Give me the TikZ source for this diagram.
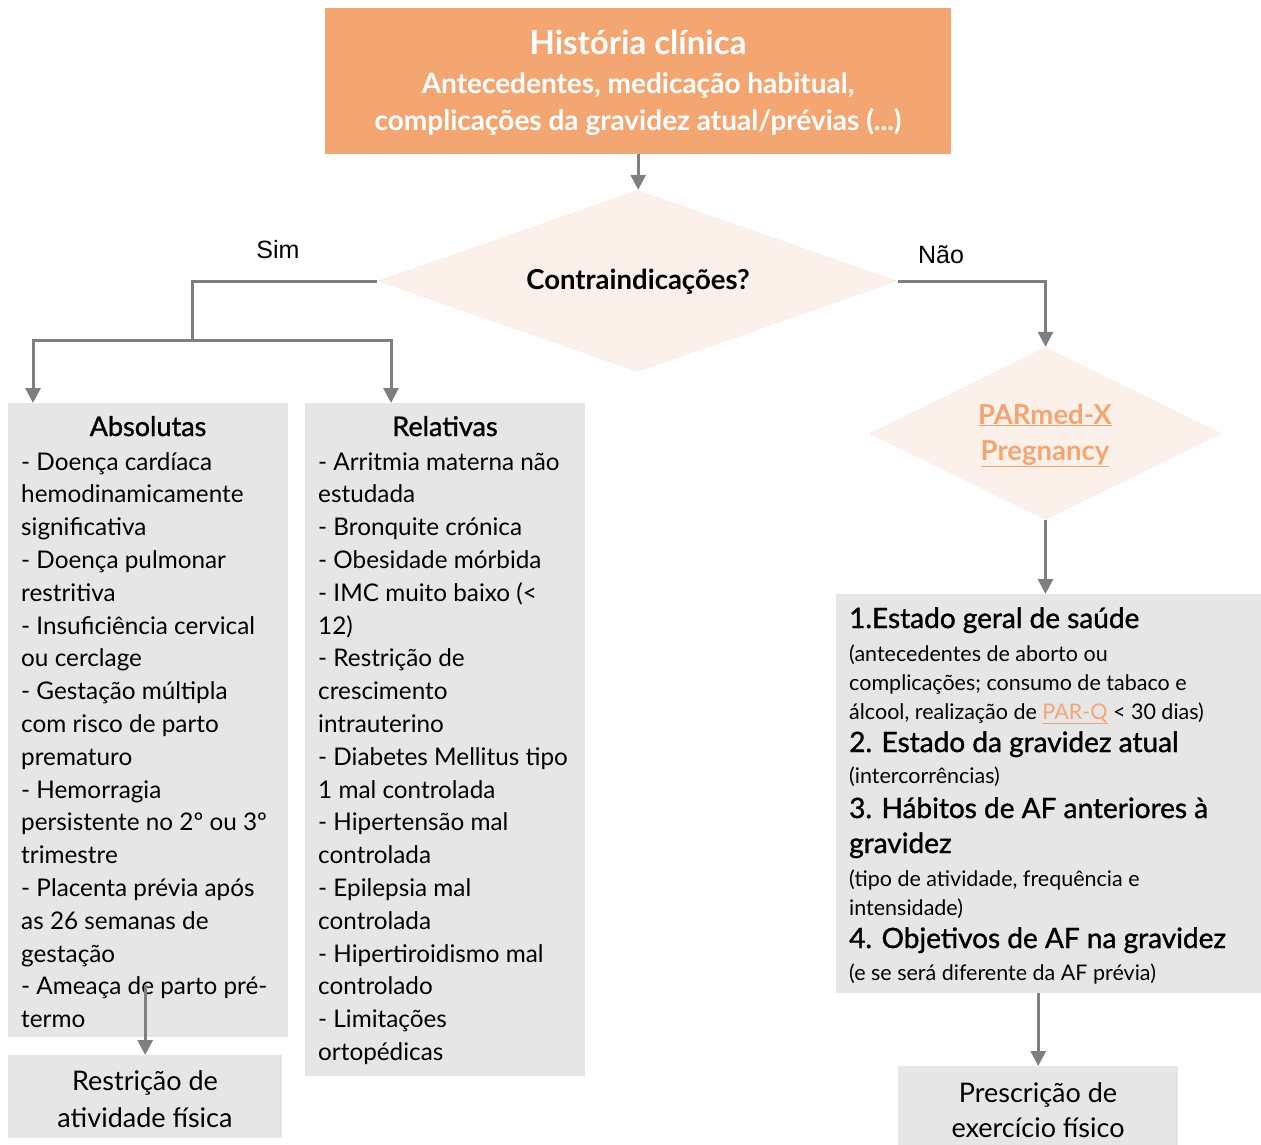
\documentclass[tikz,border=0pt]{standalone}
\usepackage{fontspec}
\setmainfont{Lato}
\newfontfamily\arialfont{Liberation Sans}
\newfontfamily\medfont[FakeBold=1.2]{Lato}
\usetikzlibrary{arrows.meta,shapes.geometric}
\definecolor{orangebox}{HTML}{F4A672}
\definecolor{diamfill}{HTML}{FBF0EA}
\definecolor{grayfill}{HTML}{E6E6E6}
\definecolor{linegray}{HTML}{7F7F7F}
\definecolor{linkorange}{HTML}{F4A672}
\begin{document}
\begin{tikzpicture}[x=1pt,y=-1pt,
  conn/.style={draw=linegray, line width=3pt, -{Triangle[length=15pt,width=15pt]}},
  plain/.style={draw=linegray, line width=3pt},
  boxnode/.style={fill=grayfill, inner sep=0pt, anchor=north west},
  body/.style={inner sep=0pt, anchor=base west, align=left, font=\fontsize{24.3}{32.8}\selectfont},
  boxtitle/.style={inner sep=0pt, anchor=base, font=\medfont\fontsize{27}{30}\selectfont},
  head/.style={inner sep=0pt, anchor=base west, font=\medfont\fontsize{28}{32}\selectfont},
  small/.style={inner sep=0pt, anchor=base west, align=left, font=\fontsize{21.5}{29}\selectfont},
  centered/.style={inner sep=0pt, anchor=base, align=center, font=\fontsize{27}{36}\selectfont},
  diam/.style={diamond, fill=diamfill, inner sep=0pt},
  lbl/.style={inner sep=0pt, anchor=base, font=\arialfont\fontsize{25}{28}\selectfont}
]
\useasboundingbox (0,0) rectangle (1261,1144);

% top box
\node[fill=orangebox, inner sep=0pt, anchor=north west, minimum width=626pt, minimum height=146pt] (top) at (325,8) {};
\node[inner sep=0pt, anchor=base, text=white, font=\bfseries\fontsize{33}{36}\selectfont] (toptitle) at (638,54) {História clínica};
\node[inner sep=0pt, anchor=base, text=white, align=center, font=\bfseries\fontsize{28}{37}\selectfont] (topsub) at (638,130) {Antecedentes, medicação habitual,\\complicações da gravidez atual/prévias (...)};

% decision 1
\node[diam, minimum width=521pt, minimum height=182pt, aspect=2.86] (d1) at (637.5,281) {};
\node[inner sep=0pt, anchor=base, font=\bfseries\fontsize{27.5}{30}\selectfont] (d1txt) at (638,289) {Contraindicações?};

% decision 2
\node[diam, minimum width=353pt, minimum height=173pt, aspect=2.04] (d2) at (1045.5,433.5) {};
\node[inner sep=0pt, anchor=base, text=linkorange, align=center, font=\bfseries\fontsize{27.5}{36}\selectfont] (d2txt) at (1045,460) {\underline{PARmed-X}\\\underline{Pregnancy}};

% labels
\node[lbl] (sim) at (278,258) {Sim};
\node[lbl] (nao) at (941,263) {Não};

% Absolutas box
\node[boxnode, minimum width=280pt, minimum height=634pt] (absbox) at (8,403) {};
\node[boxtitle] (abstitle) at (148,436) {Absolutas};
\node[body] (abstxt) at (21,1027.6) {- Doença cardíaca\\hemodinamicamente\\significativa\\- Doença pulmonar\\restritiva\\- Insuficiência cervical\\ou cerclage\\- Gestação múltipla\\com risco de parto\\prematuro\\- Hemorragia\\persistente no 2º ou 3º\\trimestre\\- Placenta prévia após\\as 26 semanas de\\gestação\\- Ameaça de parto pré-\\termo};

% Relativas box
\node[boxnode, minimum width=280pt, minimum height=673pt] (relbox) at (305,403) {};
\node[boxtitle] (reltitle) at (445,436) {Relativas};
\node[body] (reltxt) at (318,1060.4) {- Arritmia materna não\\estudada\\- Bronquite crónica\\- Obesidade mórbida\\- IMC muito baixo (<\\12)\\- Restrição de\\crescimento\\intrauterino\\- Diabetes Mellitus tipo\\1 mal controlada\\- Hipertensão mal\\controlada\\- Epilepsia mal\\controlada\\- Hipertiroidismo mal\\controlado\\- Limitações\\ortopédicas};

% Right box
\node[boxnode, minimum width=425pt, minimum height=399pt] (rbox) at (836,594) {};
\node[head] (h1) at (849,628) {1.Estado geral de saúde};
\node[small] (s1) at (849,719) {(antecedentes de aborto ou\\complicações; consumo de tabaco e\\álcool, realização de {\color{linkorange}\underline{PAR-Q}} < 30 dias)};
\node[head] (h2) at (849,752) {2. Estado da gravidez atual};
\node[small] (s2) at (849,783) {(intercorrências)};
\node[head] (h3) at (849,818) {3. Hábitos de AF anteriores à};
\node[head] (h3b) at (849,853) {gravidez};
\node[small] (s3) at (849,915) {(tipo de atividade, frequência e\\intensidade)};
\node[head] (h4) at (849,948) {4. Objetivos de AF na gravidez};
\node[small] (s4) at (849,980) {(e se será diferente da AF prévia)};

% bottom boxes
\node[boxnode, minimum width=274pt, minimum height=83pt] (restr) at (8,1055) {};
\node[centered, font=\fontsize{27}{37}\selectfont] (restrtxt) at (145,1127) {Restrição de\\atividade física};
\node[boxnode, minimum width=280pt, minimum height=80pt] (presc) at (898,1066) {};
\node[centered, font=\fontsize{27}{35}\selectfont] (presctxt) at (1038,1137) {Prescrição de\\exercício físico};

% connectors
\coordinate (sp) at (192,340);
\draw[conn] (top.south) -- (top.south |- d1.north);
\draw[plain] (d1.west) -| (sp);
\draw[conn] (sp) -| ([xshift=25pt]absbox.north west);
\draw[conn] (sp) -| ([xshift=86pt]relbox.north west);
\draw[conn] (d1.east) -| (d2.north);
\draw[conn] (d2.south) -- (d2.south |- rbox.north);
\draw[conn] (presc.north |- rbox.south) -- (presc.north);
\draw[conn] ([yshift=52pt]restr.north |- absbox.south) -- (restr.north);
\end{tikzpicture}
\end{document}
